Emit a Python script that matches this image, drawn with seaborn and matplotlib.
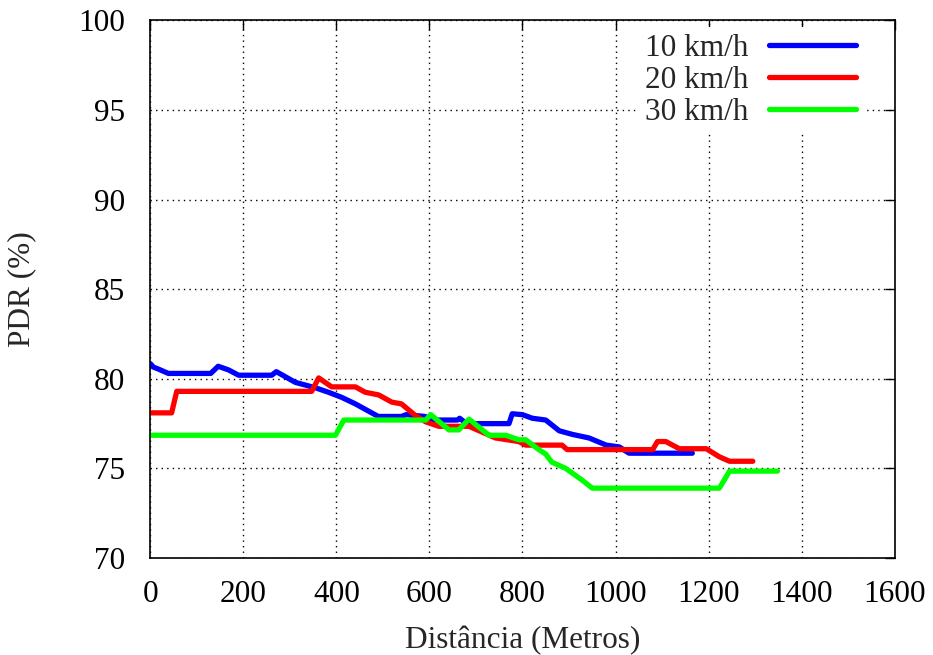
import matplotlib
matplotlib.use("Agg")
import matplotlib.pyplot as plt
import seaborn as sns
import pandas as pd

# ---- data ----
labels = ["10 km/h", "20 km/h", "30 km/h"]
colors = ["#0000ff", "#ff0000", "#00ff00"]

x_10 = [0, 7, 17, 39, 130, 146, 168, 190, 261, 271, 312, 355, 383, 411, 441,
        476, 490, 540, 550, 590, 610, 660, 665, 680, 771, 778, 800, 821, 850,
        879, 907, 943, 980, 1008, 1029, 1165]
y_10 = [80.85, 80.65, 80.55, 80.3, 80.3, 80.7, 80.5, 80.2, 80.2, 80.4, 79.8,
        79.5, 79.25, 78.97, 78.6, 78.1, 77.9, 77.9, 78.0, 77.9, 77.7, 77.7,
        77.8, 77.5, 77.5, 78.05, 78.0, 77.8, 77.7, 77.1, 76.9, 76.7, 76.3,
        76.2, 75.85, 75.85]

x_20 = [0, 46, 57, 347, 362, 390, 441, 462, 491, 519, 540, 570, 592, 620, 685,
        742, 792, 807, 885, 896, 1080, 1090, 1108, 1137, 1195, 1223, 1245, 1295]
y_20 = [78.1, 78.1, 79.3, 79.3, 80.05, 79.55, 79.55, 79.25, 79.1, 78.7, 78.6,
        77.95, 77.6, 77.35, 77.35, 76.7, 76.5, 76.3, 76.3, 76.05, 76.05, 76.5,
        76.5, 76.1, 76.1, 75.65, 75.4, 75.4]

x_30 = [0, 398, 416, 592, 603, 642, 663, 685, 728, 764, 792, 807, 835, 850,
        863, 893, 928, 950, 1223, 1245, 1348]
y_30 = [76.85, 76.85, 77.7, 77.7, 78.0, 77.15, 77.15, 77.75, 76.85, 76.85,
        76.6, 76.6, 76.05, 75.8, 75.35, 75.0, 74.35, 73.9, 73.9, 74.85, 74.85]

x_ticks = [0, 200, 400, 600, 800, 1000, 1200, 1400, 1600]
y_ticks = [70, 75, 80, 85, 90, 95, 100]

frames = []
for lab, xs, ys in zip(labels, [x_10, x_20, x_30], [y_10, y_20, y_30]):
    frames.append(pd.DataFrame({"dist": xs, "pdr": ys, "speed": lab}))
df = pd.concat(frames, ignore_index=True)

# ---- style ----
sns.set_style("white")
plt.rcParams["font.family"] = ["Liberation Serif", "DejaVu Serif"]

FS = 22.5

fig = plt.figure(figsize=(9.33, 6.55), dpi=100)
ax = fig.add_axes([0.161, 0.148, 0.798, 0.821])

sns.lineplot(data=df, x="dist", y="pdr", hue="speed", hue_order=labels,
             palette=colors, estimator=None, sort=False, linewidth=3.8,
             ax=ax)

ax.set_xlim(0, 1600)
ax.set_ylim(70, 100)
ax.set_xticks(x_ticks)
ax.set_yticks(y_ticks)
ax.tick_params(direction="in", length=7, width=1, top=True, right=True,
               labelsize=FS, colors="black")
ax.tick_params(axis="y", pad=18)
ax.tick_params(axis="x", pad=16)
ax.grid(True, color="black", linestyle=(0, (1, 3)), linewidth=1)
for s in ax.spines.values():
    s.set_color("black")
    s.set_linewidth(1.2)

ax.set_xlabel("Distância (Metros)", fontsize=FS, labelpad=12)
ax.set_ylabel("PDR (%)", fontsize=FS, labelpad=30)

handles, labs = ax.get_legend_handles_labels()
leg = ax.legend(handles, labs, loc="upper right", frameon=True,
                facecolor="white", edgecolor="none", framealpha=1.0,
                fancybox=False,
                fontsize=FS, markerfirst=False, handlelength=2.8,
                handletextpad=0.65, labelspacing=0.1, borderpad=0.2,
                borderaxespad=0, bbox_to_anchor=(0.957, 0.987))
for ln in leg.get_lines():
    ln.set_linewidth(3.8)

fig.savefig("out.png", dpi=100)
